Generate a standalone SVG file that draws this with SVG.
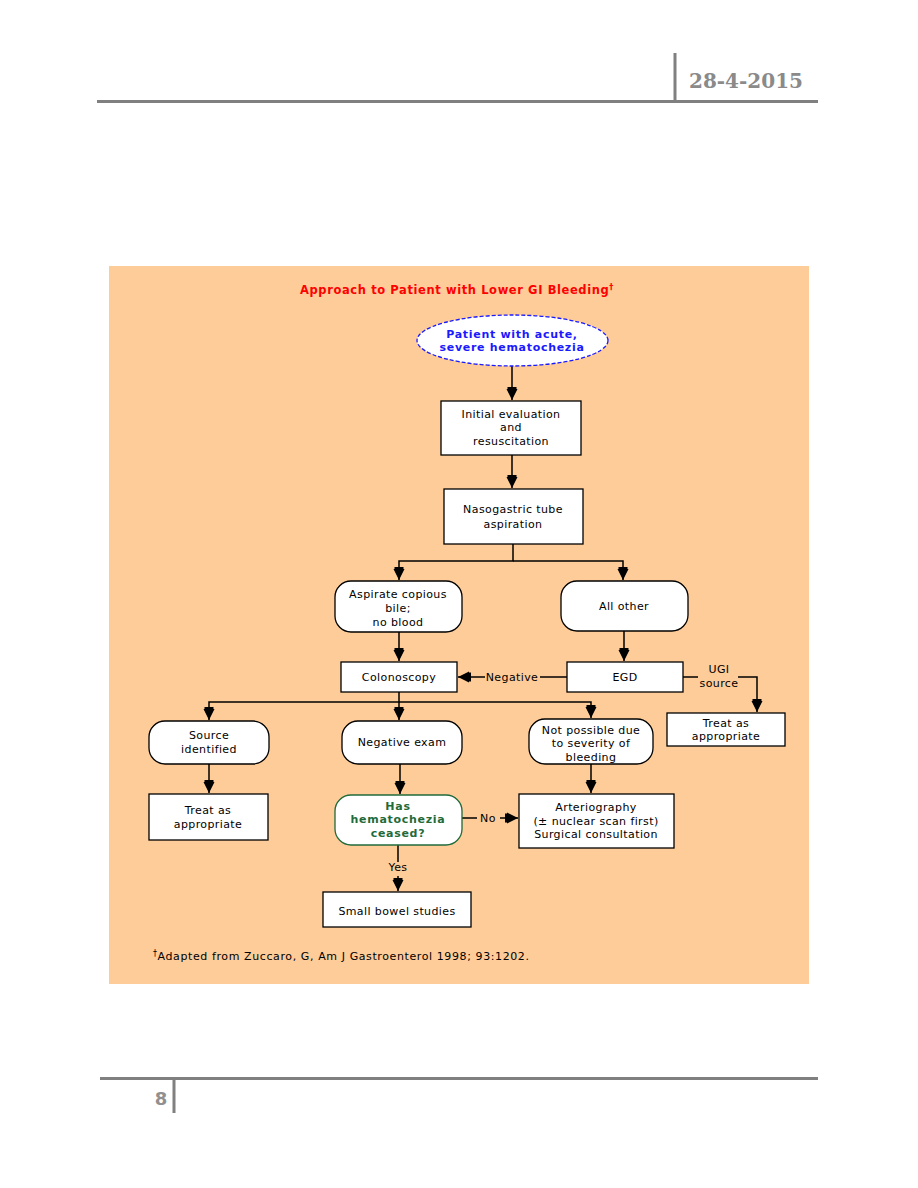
<svg xmlns="http://www.w3.org/2000/svg" width="918" height="1188" viewBox="0 0 918 1188">
<style>
.t{font-family:"DejaVu Sans","Liberation Sans",sans-serif;font-size:11px;fill:#000;text-anchor:middle;letter-spacing:0.4px}
.box{fill:#fff;stroke:#000;stroke-width:1.3}
.c{fill:none;stroke:#000;stroke-width:1.5}
.hdr{stroke:#808080;stroke-width:3;fill:none}
</style>
<defs>
<marker id="ar" markerUnits="userSpaceOnUse" markerWidth="16" markerHeight="16" viewBox="-14 -8 16 16" refX="0" refY="0" orient="auto">
<path d="M0,0 L-11,-5.5 L-11,5.5 Z M-13,-4.5 L-11,-4.5 L-11,4.5 L-13,4.5 Z" fill="#000"/>
</marker>
</defs>
<rect width="918" height="1188" fill="#fff"/>
<g id="header">
<path class="hdr" d="M97,101.5 H818 M675,53 V101"/>
<text x="746" y="88" style="font-family:'DejaVu Serif','Liberation Serif',serif;font-weight:bold;font-size:20px;fill:#8a8a8a;text-anchor:middle">28-4-2015</text>
</g>
<g id="footer">
<path class="hdr" d="M100,1078.5 H818 M174,1078 V1113"/>
<text x="161" y="1105" style="font-family:'DejaVu Sans','Liberation Sans',sans-serif;font-weight:bold;font-size:18px;fill:#909090;text-anchor:middle">8</text>
</g>
<rect id="panel" x="109" y="266" width="700" height="718" fill="#FECC99"/>
<text id="title" x="457" y="294" style="font-family:'DejaVu Sans','Liberation Sans',sans-serif;font-weight:bold;font-size:11.5px;fill:#f00;text-anchor:middle;letter-spacing:0.6px">Approach to Patient with Lower GI Bleeding<tspan font-size="8" dy="-4">†</tspan></text>

<g id="connectors">
<path class="c" d="M512,366 V400" marker-end="url(#ar)"/>
<path class="c" d="M512,455 V488" marker-end="url(#ar)"/>
<path class="c" d="M513,544 V561 H399 V580" marker-end="url(#ar)"/>
<path class="c" d="M513,561 H623 V580" marker-end="url(#ar)"/>
<path class="c" d="M399,632 V661" marker-end="url(#ar)"/>
<path class="c" d="M624,631 V661" marker-end="url(#ar)"/>
<path class="c" d="M567,677 H540"/>
<path class="c" d="M485,677 H458" marker-end="url(#ar)"/>
<path class="c" d="M683,677 H698"/>
<path class="c" d="M738,677 H757 V712" marker-end="url(#ar)"/>
<path class="c" d="M399,692 V702 H209 V720" marker-end="url(#ar)"/>
<path class="c" d="M399,702 V720" marker-end="url(#ar)"/>
<path class="c" d="M399,702 H591 V718" marker-end="url(#ar)"/>
<path class="c" d="M209,764 V793" marker-end="url(#ar)"/>
<path class="c" d="M400,764 V794" marker-end="url(#ar)"/>
<path class="c" d="M591,764 V793" marker-end="url(#ar)"/>
<path class="c" d="M462,818 H477"/>
<path class="c" d="M500,818 H518" marker-end="url(#ar)"/>
<path class="c" d="M398,845 V862"/>
<path class="c" d="M398,876 V891" marker-end="url(#ar)"/>
<text class="t" x="512" y="681">Negative</text>
<text class="t" x="719" y="673">UGI</text>
<text class="t" x="719" y="687">source</text>
<text class="t" x="488" y="822">No</text>
<text class="t" x="398" y="871">Yes</text>
</g>

<g id="start">
<ellipse cx="512.5" cy="340.5" rx="95.5" ry="25.5" fill="#fff" stroke="#1a1aff" stroke-width="1.3" stroke-dasharray="4,2"/>
<text class="t" x="512" y="338" style="fill:#1a1aff;font-weight:bold;letter-spacing:0.7px">Patient with acute,</text>
<text class="t" x="512" y="351" style="fill:#1a1aff;font-weight:bold;letter-spacing:0.7px">severe hematochezia</text>
</g>
<g id="initial">
<rect class="box" x="441" y="401" width="140" height="54"/>
<text class="t" x="511" y="418">Initial evaluation</text>
<text class="t" x="511" y="431">and</text>
<text class="t" x="511" y="445">resuscitation</text>
</g>
<g id="ngtube">
<rect class="box" x="444" y="489" width="139" height="55"/>
<text class="t" x="513" y="513">Nasogastric tube</text>
<text class="t" x="513" y="528">aspiration</text>
</g>
<g id="aspirate">
<rect class="box" x="335" y="581" width="127" height="51" rx="16"/>
<text class="t" x="398" y="598">Aspirate copious</text>
<text class="t" x="398" y="612">bile;</text>
<text class="t" x="398" y="626">no blood</text>
</g>
<g id="allother">
<rect class="box" x="561" y="581" width="127" height="50" rx="16"/>
<text class="t" x="624" y="610">All other</text>
</g>
<g id="colonoscopy">
<rect class="box" x="341" y="662" width="116" height="30"/>
<text class="t" x="399" y="681">Colonoscopy</text>
</g>
<g id="egd">
<rect class="box" x="567" y="662" width="116" height="30"/>
<text class="t" x="625" y="681">EGD</text>
</g>
<g id="treat-right">
<rect class="box" x="667" y="713" width="118" height="33"/>
<text class="t" x="726" y="727">Treat as</text>
<text class="t" x="726" y="740">appropriate</text>
</g>
<g id="source">
<rect class="box" x="149" y="721" width="120" height="43" rx="16"/>
<text class="t" x="209" y="739">Source</text>
<text class="t" x="209" y="753">identified</text>
</g>
<g id="negexam">
<rect class="box" x="342" y="721" width="120" height="43" rx="16"/>
<text class="t" x="402" y="746">Negative exam</text>
</g>
<g id="notpossible">
<rect class="box" x="529" y="719" width="124" height="45" rx="16"/>
<text class="t" x="591" y="734">Not possible due</text>
<text class="t" x="591" y="747">to severity of</text>
<text class="t" x="591" y="761">bleeding</text>
</g>
<g id="treat-left">
<rect class="box" x="149" y="794" width="119" height="46"/>
<text class="t" x="208" y="814">Treat as</text>
<text class="t" x="208" y="828">appropriate</text>
</g>
<g id="ceased">
<rect x="335" y="795" width="127" height="50" rx="16" fill="#fff" stroke="#1f6b3a" stroke-width="1.3"/>
<text class="t" x="398" y="810" style="fill:#1f6b3a;font-weight:bold;letter-spacing:0.7px">Has</text>
<text class="t" x="398" y="823" style="fill:#1f6b3a;font-weight:bold;letter-spacing:0.7px">hematochezia</text>
<text class="t" x="398" y="837" style="fill:#1f6b3a;font-weight:bold;letter-spacing:0.7px">ceased?</text>
</g>
<g id="arteriography">
<rect class="box" x="519" y="794" width="155" height="54"/>
<text class="t" x="596" y="811">Arteriography</text>
<text class="t" x="596" y="825">(± nuclear scan first)</text>
<text class="t" x="596" y="838">Surgical consultation</text>
</g>
<g id="smallbowel">
<rect class="box" x="323" y="892" width="148" height="35"/>
<text class="t" x="397" y="915">Small bowel studies</text>
</g>
<text id="footnote" x="153" y="960" style="font-family:'DejaVu Sans','Liberation Sans',sans-serif;font-size:11px;fill:#000;letter-spacing:0.6px"><tspan font-size="8" dy="-4">†</tspan><tspan dy="4">Adapted from Zuccaro, G, Am J Gastroenterol 1998; 93:1202.</tspan></text>
</svg>
